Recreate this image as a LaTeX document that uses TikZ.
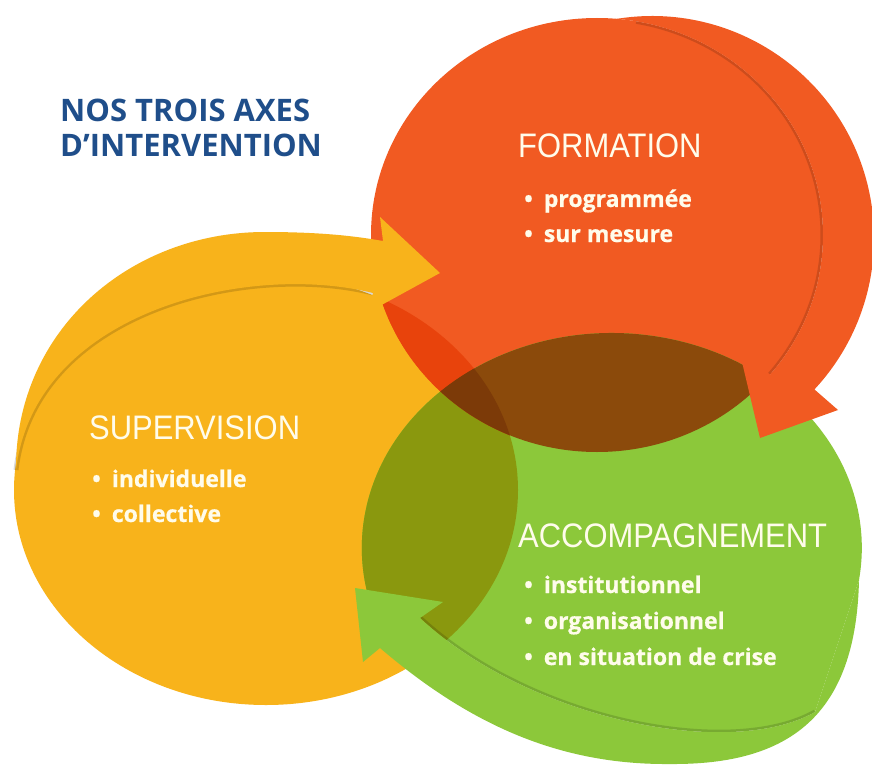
\documentclass[tikz,border=0pt]{standalone}
\usepackage{fontspec}
\setmainfont{Open Sans}
\newfontfamily\headfont[FakeStretch=0.91]{Liberation Sans}
\newfontfamily\itemfont[FakeBold=0.6]{Open Sans}
\definecolor{cOrange}{HTML}{F15A22}
\definecolor{cYellow}{HTML}{F8B31B}
\definecolor{cGreen}{HTML}{8CC83A}
\definecolor{cOY}{HTML}{E8430C}
\definecolor{cOG}{HTML}{8B4A0B}
\definecolor{cYG}{HTML}{8A980E}
\definecolor{cOYG}{HTML}{7C3A08}
\definecolor{cTitle}{HTML}{1F4E8A}
\definecolor{cText}{HTML}{FFFCEB}
\def\orangedisc{(597,235) ellipse [x radius=226, y radius=217]}
\def\yellowdisc{(266,490) ellipse [x radius=252, y radius=215]}
\def\greendisc{(859,580) arc[start angle=8.56, end angle=-210, x radius=250, y radius=215] -- (420,618) .. controls (530,720) and (730,760) .. (815,712) -- cycle}

\begin{document}
\begin{tikzpicture}[x=1pt,y=-1pt,
  heading/.style={anchor=base west,inner sep=0,text=cText,font=\headfont\fontsize{34}{34}\selectfont},
  item/.style={anchor=base west,inner sep=0,text=cText,font=\itemfont\bfseries\fontsize{23}{23}\selectfont},
  title/.style={anchor=base west,inner sep=0,text=cTitle,font=\bfseries\fontsize{31}{31}\selectfont},
  edgeshadow/.style={line width=5pt,black,opacity=0.15}]
\useasboundingbox (0,0) rectangle (872,770);
\fill[white] (0,0) rectangle (872,770);

\fill[cYellow] \yellowdisc;
\fill[cOrange] \orangedisc;
\fill[cGreen] \greendisc;
\begin{scope}
\clip \yellowdisc;
\fill[cYG] \greendisc;
\end{scope}
\begin{scope}
\clip \orangedisc;
\fill[cOY] \yellowdisc;
\fill[cOG] \greendisc;
\clip \yellowdisc;
\fill[cOYG] \greendisc;
\end{scope}

\draw[edgeshadow] (770.1,374.5) arc[start angle=40, end angle=-80, x radius=226, y radius=217];
\fill[cOrange] (613.5,19.4) arc[start angle=-100, end angle=43, radius=222]
  -- (838,410) -- (760,438) -- (742,362) -- (770.1,374.5)
  arc[start angle=40, end angle=-84, x radius=226, y radius=217] -- cycle;

\draw[edgeshadow] (373,293) .. controls (250,262) and (35,310) .. (16,470);
\fill[cYellow] (16,468) .. controls (16,330) and (130,232) .. (265,232)
  .. controls (320,232) and (355,236) .. (383,241)
  -- (380,217) -- (440,273) -- (367,313) -- (373,293)
  .. controls (250,262) and (35,310) .. (16,470) -- cycle;

\draw[edgeshadow] (420,618) .. controls (530,720) and (730,760) .. (815,712);
\fill[cGreen] (859,580) .. controls (856,715) and (790,765) .. (670,764)
  .. controls (560,765) and (470,725) .. (380,648)
  -- (363,662) -- (355,588) -- (443,602) -- (420,618)
  .. controls (530,720) and (730,760) .. (815,712) -- cycle;

\node[title] (titleA) at (60,122) {NOS TROIS AXES};
\node[title] (titleB) at (60,157) {D’INTERVENTION};

\node[heading] (formHead) at (518,158) {FORMATION};
\node[item] (formA) at (524,207) {•\hspace{11pt}programmée};
\node[item] (formB) at (524,242) {•\hspace{11pt}sur mesure};

\node[heading] (supHead) at (89,439) {SUPERVISION};
\node[item] (supA) at (92,487) {•\hspace{11pt}individuelle};
\node[item] (supB) at (92,522) {•\hspace{11pt}collective};

\node[heading] (accHead) at (518,547) {ACCOMPAGNEMENT};
\node[item] (accA) at (524,593) {•\hspace{11pt}institutionnel};
\node[item] (accB) at (524,629) {•\hspace{11pt}organisationnel};
\node[item] (accC) at (524,665) {•\hspace{11pt}en situation de crise};
\end{tikzpicture}
\end{document}
